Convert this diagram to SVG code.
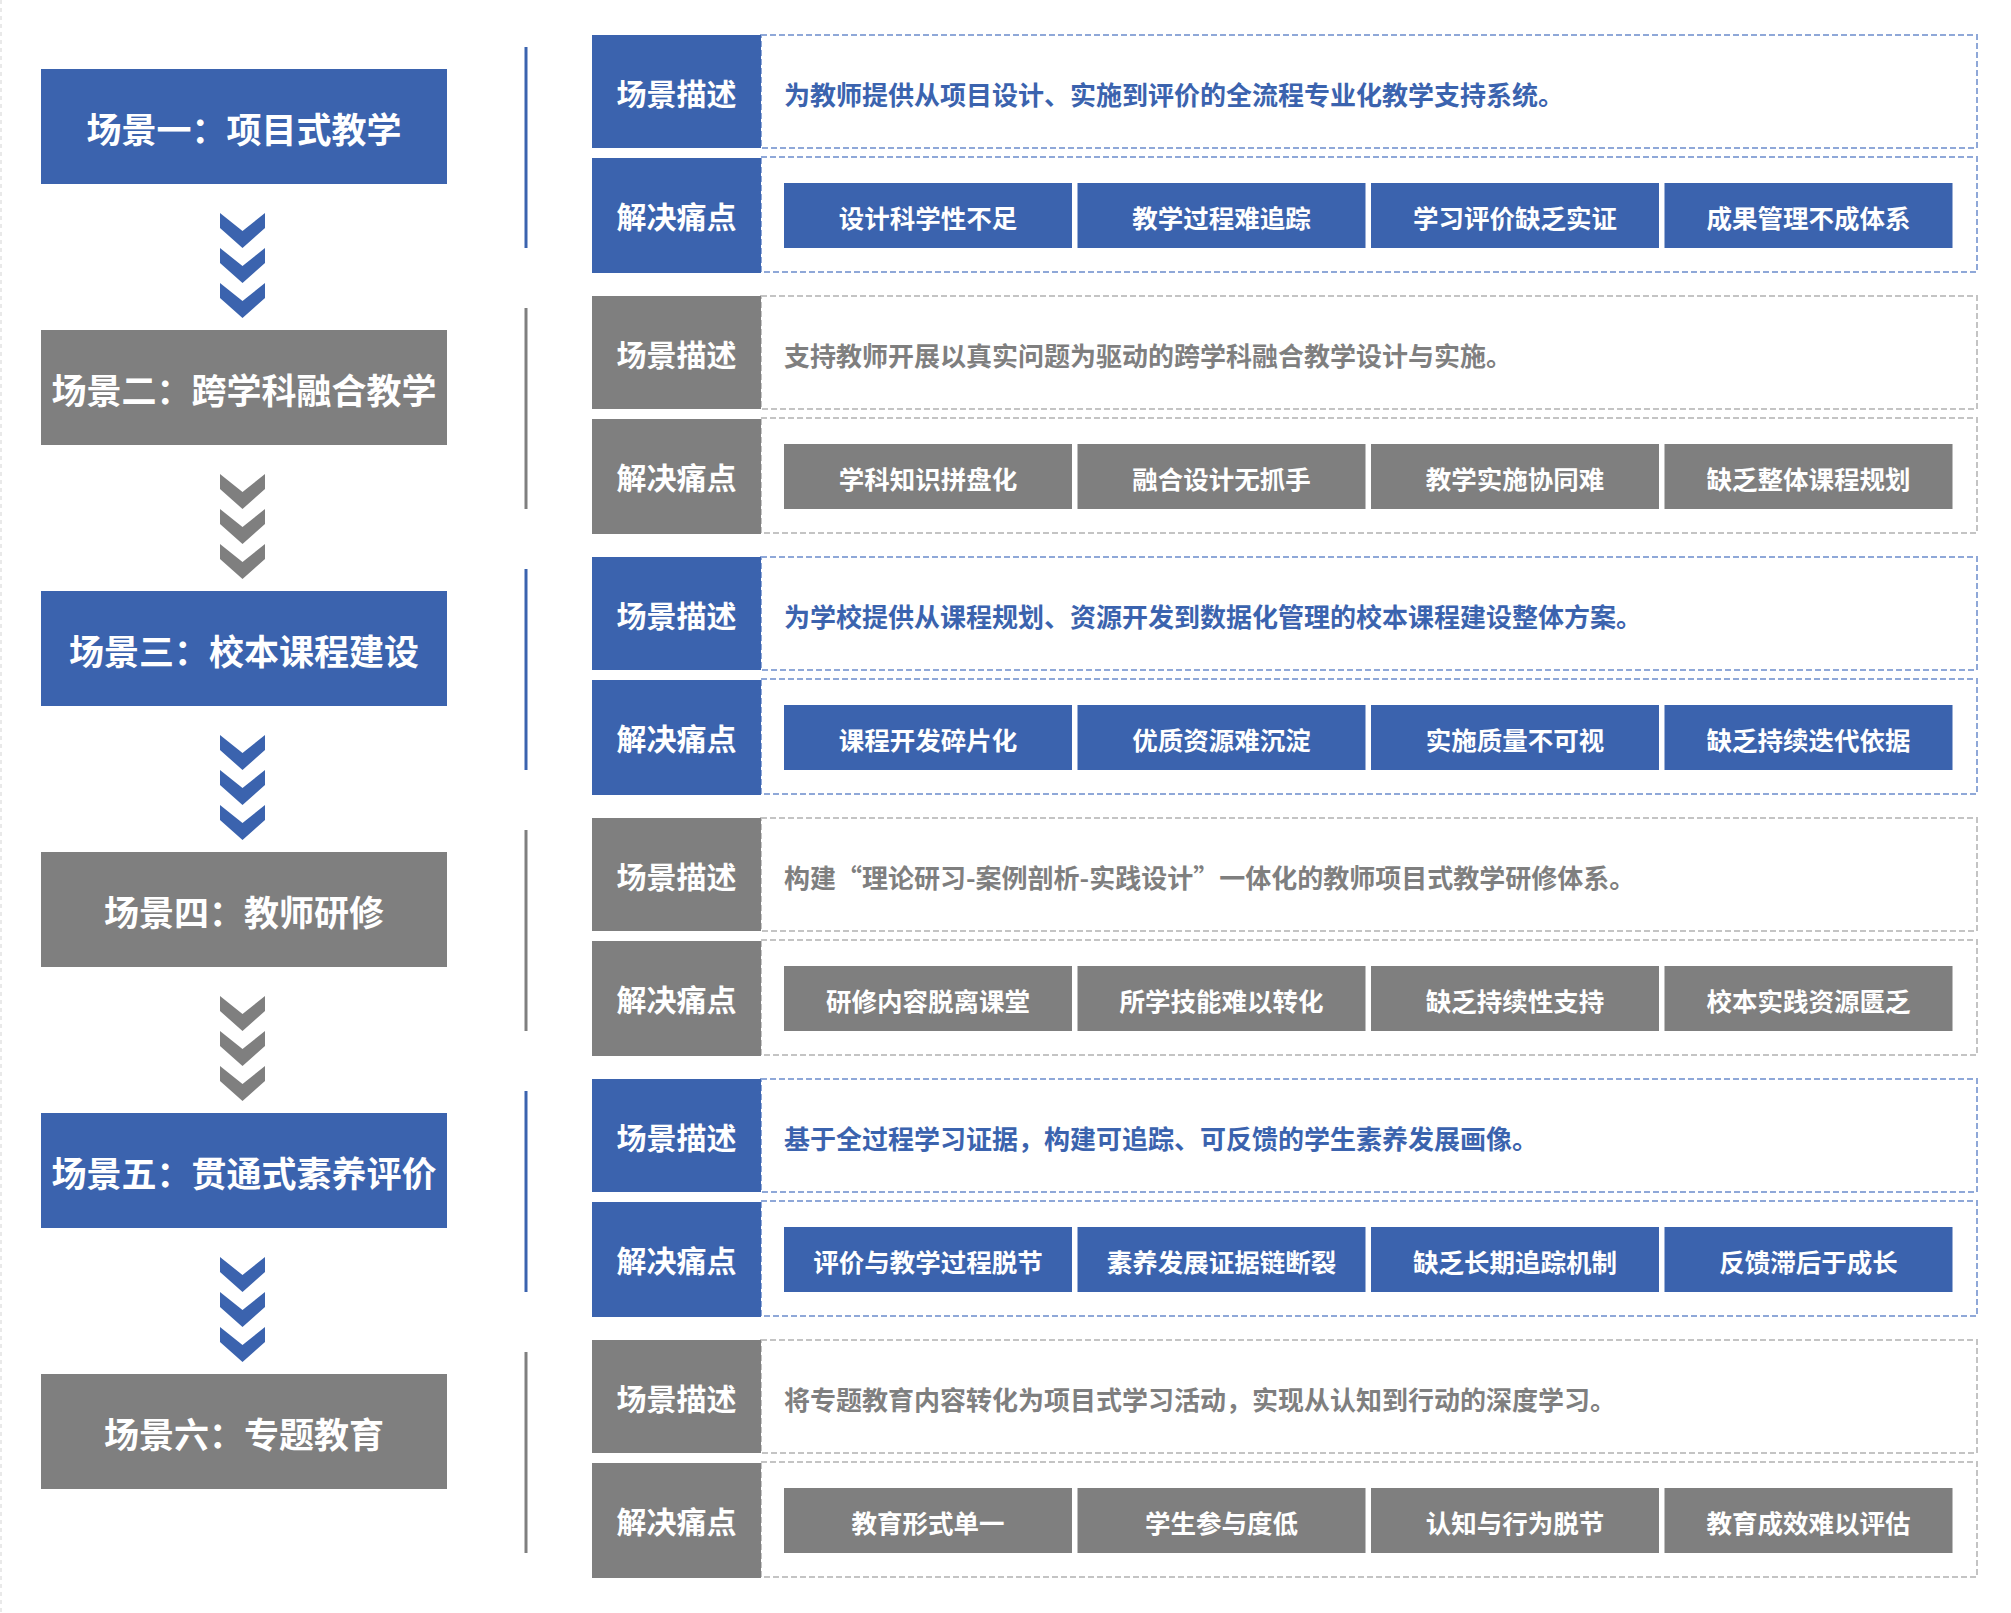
<svg xmlns="http://www.w3.org/2000/svg" width="2011" height="1613" viewBox="0 0 2011 1613">
<style>
text{font-family:"Noto Sans CJK SC","Noto Sans",sans-serif;font-weight:700}
.b{fill:#3b63ae}
.g{fill:#7f7f7f}
.lt{font-size:35px;text-anchor:middle;dominant-baseline:central;fill:#fff}
.lb{font-size:30px;text-anchor:middle;dominant-baseline:central;fill:#fff}
.ds{font-size:26px;dominant-baseline:central}
.dsb{fill:#3b63ae}
.dsg{fill:#7f7f7f}
.ch{font-size:25.5px;text-anchor:middle;dominant-baseline:central;fill:#fff}
.db{fill:none;stroke:#8fa8d8;stroke-width:2;stroke-dasharray:6 3}
.dg{fill:none;stroke:#c4c4c4;stroke-width:2;stroke-dasharray:6 3}
.vb{stroke:#3b63ae;stroke-width:3}
.vg{stroke:#7f7f7f;stroke-width:3}
</style>
<defs>
<g id="chev">
<polygon points="220,213 242.5,231 265,213 265,228 242.5,248 220,228"/>
<polygon points="220,248 242.5,266 265,248 265,263 242.5,283 220,263"/>
<polygon points="220,283 242.5,301 265,283 265,298 242.5,318 220,298"/>
</g>
</defs>
<rect x="0" y="0" width="2011" height="1613" fill="#fff"/>
<line x1="1" y1="0" x2="1" y2="1613" stroke="#e2e2e2" stroke-width="1.5" stroke-dasharray="4 4"/>

<g id="connectors">
<use href="#chev" class="b" transform="translate(0,0)"/>
<use href="#chev" class="g" transform="translate(0,261)"/>
<use href="#chev" class="b" transform="translate(0,522)"/>
<use href="#chev" class="g" transform="translate(0,783)"/>
<use href="#chev" class="b" transform="translate(0,1044)"/>
</g>

<!-- Scene 1 -->
<g id="scene1">
<rect class="b" x="41" y="69" width="406" height="115"/>
<text class="lt" x="244" y="127">场景一：项目式教学</text>
</g>
<g id="detail1">
<line class="vb" x1="526" y1="47" x2="526" y2="248"/>
<rect class="db" x="761" y="35" width="1216" height="113"/>
<rect class="db" x="761" y="157" width="1216" height="115"/>
<rect class="b" x="592" y="35" width="169" height="113"/>
<text class="lb" x="676.5" y="92">场景描述</text>
<rect class="b" x="592" y="158" width="169" height="115"/>
<text class="lb" x="676.5" y="215">解决痛点</text>
<text class="ds dsb" x="784" y="93">为教师提供从项目设计、实施到评价的全流程专业化教学支持系统。</text>
<rect class="b" x="784" y="183" width="288" height="65"/>
<text class="ch" x="928" y="216">设计科学性不足</text>
<rect class="b" x="1077.5" y="183" width="288" height="65"/>
<text class="ch" x="1221.5" y="216">教学过程难追踪</text>
<rect class="b" x="1371" y="183" width="288" height="65"/>
<text class="ch" x="1515" y="216">学习评价缺乏实证</text>
<rect class="b" x="1664.5" y="183" width="288" height="65"/>
<text class="ch" x="1808.5" y="216">成果管理不成体系</text>
</g>

<!-- Scene 2 -->
<g id="scene2" transform="translate(0,261)">
<rect class="g" x="41" y="69" width="406" height="115"/>
<text class="lt" x="244" y="127">场景二：跨学科融合教学</text>
</g>
<g id="detail2" transform="translate(0,261)">
<line class="vg" x1="526" y1="47" x2="526" y2="248"/>
<rect class="dg" x="761" y="35" width="1216" height="113"/>
<rect class="dg" x="761" y="157" width="1216" height="115"/>
<rect class="g" x="592" y="35" width="169" height="113"/>
<text class="lb" x="676.5" y="92">场景描述</text>
<rect class="g" x="592" y="158" width="169" height="115"/>
<text class="lb" x="676.5" y="215">解决痛点</text>
<text class="ds dsg" x="784" y="93">支持教师开展以真实问题为驱动的跨学科融合教学设计与实施。</text>
<rect class="g" x="784" y="183" width="288" height="65"/>
<text class="ch" x="928" y="216">学科知识拼盘化</text>
<rect class="g" x="1077.5" y="183" width="288" height="65"/>
<text class="ch" x="1221.5" y="216">融合设计无抓手</text>
<rect class="g" x="1371" y="183" width="288" height="65"/>
<text class="ch" x="1515" y="216">教学实施协同难</text>
<rect class="g" x="1664.5" y="183" width="288" height="65"/>
<text class="ch" x="1808.5" y="216">缺乏整体课程规划</text>
</g>

<!-- Scene 3 -->
<g id="scene3" transform="translate(0,522)">
<rect class="b" x="41" y="69" width="406" height="115"/>
<text class="lt" x="244" y="127">场景三：校本课程建设</text>
</g>
<g id="detail3" transform="translate(0,522)">
<line class="vb" x1="526" y1="47" x2="526" y2="248"/>
<rect class="db" x="761" y="35" width="1216" height="113"/>
<rect class="db" x="761" y="157" width="1216" height="115"/>
<rect class="b" x="592" y="35" width="169" height="113"/>
<text class="lb" x="676.5" y="92">场景描述</text>
<rect class="b" x="592" y="158" width="169" height="115"/>
<text class="lb" x="676.5" y="215">解决痛点</text>
<text class="ds dsb" x="784" y="93">为学校提供从课程规划、资源开发到数据化管理的校本课程建设整体方案。</text>
<rect class="b" x="784" y="183" width="288" height="65"/>
<text class="ch" x="928" y="216">课程开发碎片化</text>
<rect class="b" x="1077.5" y="183" width="288" height="65"/>
<text class="ch" x="1221.5" y="216">优质资源难沉淀</text>
<rect class="b" x="1371" y="183" width="288" height="65"/>
<text class="ch" x="1515" y="216">实施质量不可视</text>
<rect class="b" x="1664.5" y="183" width="288" height="65"/>
<text class="ch" x="1808.5" y="216">缺乏持续迭代依据</text>
</g>

<!-- Scene 4 -->
<g id="scene4" transform="translate(0,783)">
<rect class="g" x="41" y="69" width="406" height="115"/>
<text class="lt" x="244" y="127">场景四：教师研修</text>
</g>
<g id="detail4" transform="translate(0,783)">
<line class="vg" x1="526" y1="47" x2="526" y2="248"/>
<rect class="dg" x="761" y="35" width="1216" height="113"/>
<rect class="dg" x="761" y="157" width="1216" height="115"/>
<rect class="g" x="592" y="35" width="169" height="113"/>
<text class="lb" x="676.5" y="92">场景描述</text>
<rect class="g" x="592" y="158" width="169" height="115"/>
<text class="lb" x="676.5" y="215">解决痛点</text>
<text class="ds dsg" x="784" y="93">构建“理论研习-案例剖析-实践设计”一体化的教师项目式教学研修体系。</text>
<rect class="g" x="784" y="183" width="288" height="65"/>
<text class="ch" x="928" y="216">研修内容脱离课堂</text>
<rect class="g" x="1077.5" y="183" width="288" height="65"/>
<text class="ch" x="1221.5" y="216">所学技能难以转化</text>
<rect class="g" x="1371" y="183" width="288" height="65"/>
<text class="ch" x="1515" y="216">缺乏持续性支持</text>
<rect class="g" x="1664.5" y="183" width="288" height="65"/>
<text class="ch" x="1808.5" y="216">校本实践资源匮乏</text>
</g>

<!-- Scene 5 -->
<g id="scene5" transform="translate(0,1044)">
<rect class="b" x="41" y="69" width="406" height="115"/>
<text class="lt" x="244" y="127">场景五：贯通式素养评价</text>
</g>
<g id="detail5" transform="translate(0,1044)">
<line class="vb" x1="526" y1="47" x2="526" y2="248"/>
<rect class="db" x="761" y="35" width="1216" height="113"/>
<rect class="db" x="761" y="157" width="1216" height="115"/>
<rect class="b" x="592" y="35" width="169" height="113"/>
<text class="lb" x="676.5" y="92">场景描述</text>
<rect class="b" x="592" y="158" width="169" height="115"/>
<text class="lb" x="676.5" y="215">解决痛点</text>
<text class="ds dsb" x="784" y="93">基于全过程学习证据，构建可追踪、可反馈的学生素养发展画像。</text>
<rect class="b" x="784" y="183" width="288" height="65"/>
<text class="ch" x="928" y="216">评价与教学过程脱节</text>
<rect class="b" x="1077.5" y="183" width="288" height="65"/>
<text class="ch" x="1221.5" y="216">素养发展证据链断裂</text>
<rect class="b" x="1371" y="183" width="288" height="65"/>
<text class="ch" x="1515" y="216">缺乏长期追踪机制</text>
<rect class="b" x="1664.5" y="183" width="288" height="65"/>
<text class="ch" x="1808.5" y="216">反馈滞后于成长</text>
</g>

<!-- Scene 6 -->
<g id="scene6" transform="translate(0,1305)">
<rect class="g" x="41" y="69" width="406" height="115"/>
<text class="lt" x="244" y="127">场景六：专题教育</text>
</g>
<g id="detail6" transform="translate(0,1305)">
<line class="vg" x1="526" y1="47" x2="526" y2="248"/>
<rect class="dg" x="761" y="35" width="1216" height="113"/>
<rect class="dg" x="761" y="157" width="1216" height="115"/>
<rect class="g" x="592" y="35" width="169" height="113"/>
<text class="lb" x="676.5" y="92">场景描述</text>
<rect class="g" x="592" y="158" width="169" height="115"/>
<text class="lb" x="676.5" y="215">解决痛点</text>
<text class="ds dsg" x="784" y="93">将专题教育内容转化为项目式学习活动，实现从认知到行动的深度学习。</text>
<rect class="g" x="784" y="183" width="288" height="65"/>
<text class="ch" x="928" y="216">教育形式单一</text>
<rect class="g" x="1077.5" y="183" width="288" height="65"/>
<text class="ch" x="1221.5" y="216">学生参与度低</text>
<rect class="g" x="1371" y="183" width="288" height="65"/>
<text class="ch" x="1515" y="216">认知与行为脱节</text>
<rect class="g" x="1664.5" y="183" width="288" height="65"/>
<text class="ch" x="1808.5" y="216">教育成效难以评估</text>
</g>
</svg>
